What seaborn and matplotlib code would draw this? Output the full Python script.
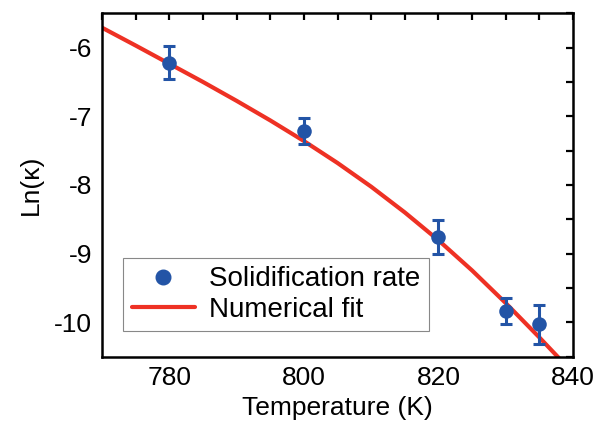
import matplotlib
matplotlib.use("Agg")
import matplotlib.pyplot as plt
import seaborn as sns
import pandas as pd
from matplotlib.ticker import MultipleLocator
from matplotlib.lines import Line2D

# Data
temps = [780, 800, 820, 830, 835]
ln_kappa = [-6.22, -7.21, -8.76, -9.83, -10.03]
err = [0.24, 0.19, 0.25, 0.19, 0.28]

fit_T = [770, 775, 780, 785, 790, 795, 800, 805, 810, 815, 820, 825, 830, 835, 838]
fit_y = [-5.71, -5.97, -6.235, -6.50, -6.775, -7.06, -7.36, -7.68, -8.025, -8.40, -8.805,
         -9.245, -9.72, -10.22, -10.53]

xticks = [780, 800, 820, 840]
yticks = [-10, -9, -8, -7, -6]

sns.set_theme(style="white")
plt.rcParams['font.family'] = ['Liberation Sans', 'DejaVu Sans']
plt.rcParams['axes.unicode_minus'] = False
for k in ['text.color', 'axes.labelcolor', 'xtick.color', 'ytick.color']:
    plt.rcParams[k] = 'black'

BLUE = '#2354A6'
RED = '#EE3124'

fig = plt.figure(figsize=(6.09, 4.23), dpi=100)
ax = fig.add_axes([0.1675, 0.1567, 0.7735, 0.812])

pts = pd.DataFrame({'T': temps, 'y': ln_kappa, 'e': err})
fit = pd.DataFrame({'T': fit_T, 'y': fit_y})

sns.lineplot(data=fit, x='T', y='y', ax=ax, color=RED, linewidth=3, zorder=2, sort=True)
ax.errorbar(pts['T'], pts['y'], yerr=pts['e'], fmt='none', ecolor=BLUE,
            elinewidth=2.2, capsize=4, capthick=2.2, zorder=3)
sns.scatterplot(data=pts, x='T', y='y', ax=ax, color=BLUE, s=110, edgecolor=BLUE,
                linewidth=0, zorder=4)

ax.set_xlim(770, 840)
ax.set_ylim(-10.5, -5.5)
ax.set_xticks(xticks)
ax.set_yticks(yticks)
ax.xaxis.set_minor_locator(MultipleLocator(5))
ax.yaxis.set_minor_locator(MultipleLocator(0.5))
ax.tick_params(which='both', direction='in', top=True, right=True,
               length=5, width=1.6, color='black')
ax.tick_params(which='major', labelsize=19, pad=7, labelcolor='black')
for s in ax.spines.values():
    s.set_linewidth(1.8)
    s.set_color('black')

ax.set_xlabel('Temperature (K)', fontsize=19, labelpad=4, color='black')
ax.set_ylabel('Ln(κ)', fontsize=19, labelpad=8, color='black')

handles = [Line2D([], [], linestyle='none', marker='o', markersize=10.5, color=BLUE),
           Line2D([], [], color=RED, linewidth=3)]
leg = ax.legend(handles, ['Solidification rate', 'Numerical fit'],
                loc='lower left', bbox_to_anchor=(0.045, 0.075), fontsize=20,
                frameon=True, fancybox=False, edgecolor='#888888', framealpha=1,
                handlelength=2.3, handletextpad=0.5, borderpad=0.3,
                labelspacing=0.15, borderaxespad=0)
leg.get_frame().set_linewidth(0.8)
for t in leg.get_texts():
    t.set_color('black')

fig.savefig('out.png', dpi=100)
